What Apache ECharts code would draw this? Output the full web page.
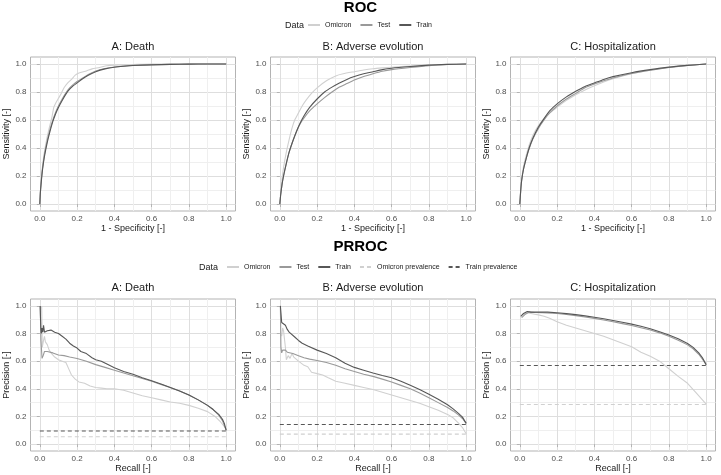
<!DOCTYPE html>
<html>
<head>
<meta charset="utf-8">
<script src="https://cdn.jsdelivr.net/npm/echarts@6/dist/echarts.min.js"></script>
<style>html,body{margin:0;padding:0;background:#fff;}#c{width:721px;height:475px;}</style>
</head>
<body>
<div id="c"></div>
<script>
// ---------- data ----------
const panelTitles = ['A: Death', 'B: Adverse evolution', 'C: Hospitalization'];
const seriesNames = ['Omicron', 'Test', 'Train'];
const prevalenceNames = ['Omicron prevalence', 'Train prevalence'];
const majorTicks = [0, 0.2, 0.4, 0.6, 0.8, 1.0];
const minorTicks = [0.1, 0.3, 0.5, 0.7, 0.9];

// ROC: [1 - specificity, sensitivity]
const rocDeathOmicron = [[0,0],[0.005,0.12],[0.012,0.24],[0.022,0.35],[0.035,0.45],[0.05,0.54],[0.065,0.62],[0.075,0.69],[0.085,0.72],[0.1,0.755],[0.115,0.79],[0.13,0.83],[0.15,0.865],[0.17,0.89],[0.19,0.92],[0.21,0.935],[0.25,0.95],[0.28,0.965],[0.32,0.975],[0.36,0.988],[0.4,0.992],[0.5,0.996],[0.6,1],[1,1]];
const rocDeathTest = [[0,0],[0.003,0.09],[0.008,0.17],[0.015,0.26],[0.025,0.355],[0.04,0.455],[0.055,0.535],[0.07,0.6],[0.085,0.655],[0.1,0.7],[0.12,0.75],[0.14,0.795],[0.16,0.83],[0.18,0.855],[0.2,0.875],[0.23,0.9],[0.26,0.925],[0.3,0.95],[0.35,0.968],[0.4,0.979],[0.5,0.99],[0.6,0.995],[0.8,0.999],[1,1]];
const rocDeathTrain = [[0,0],[0.003,0.08],[0.008,0.16],[0.015,0.25],[0.025,0.34],[0.04,0.44],[0.055,0.52],[0.07,0.59],[0.085,0.645],[0.1,0.69],[0.12,0.74],[0.14,0.785],[0.16,0.82],[0.18,0.845],[0.2,0.865],[0.23,0.895],[0.26,0.92],[0.3,0.945],[0.35,0.965],[0.4,0.977],[0.45,0.984],[0.5,0.989],[0.6,0.994],[0.7,0.997],[0.8,0.999],[0.9,1],[1,1]];

const rocAdverseOmicron = [[0,0],[0.005,0.09],[0.012,0.18],[0.02,0.26],[0.035,0.37],[0.05,0.46],[0.065,0.54],[0.08,0.6],[0.1,0.65],[0.12,0.7],[0.14,0.74],[0.17,0.79],[0.2,0.83],[0.25,0.88],[0.3,0.915],[0.34,0.93],[0.4,0.945],[0.45,0.957],[0.5,0.966],[0.55,0.972],[0.6,0.977],[0.7,0.985],[0.8,0.992],[0.9,0.997],[1,1]];
const rocAdverseTest = [[0,0],[0.005,0.07],[0.012,0.14],[0.02,0.2],[0.035,0.29],[0.05,0.37],[0.07,0.45],[0.09,0.52],[0.11,0.575],[0.13,0.615],[0.16,0.665],[0.2,0.715],[0.24,0.76],[0.28,0.8],[0.32,0.835],[0.36,0.86],[0.4,0.885],[0.45,0.91],[0.5,0.93],[0.55,0.948],[0.6,0.96],[0.7,0.975],[0.8,0.988],[0.9,0.996],[1,1]];
const rocAdverseTrain = [[0,0],[0.005,0.07],[0.012,0.14],[0.02,0.2],[0.035,0.29],[0.05,0.37],[0.07,0.45],[0.09,0.52],[0.11,0.58],[0.13,0.63],[0.16,0.69],[0.2,0.75],[0.24,0.8],[0.28,0.835],[0.32,0.865],[0.36,0.89],[0.4,0.91],[0.45,0.93],[0.5,0.945],[0.55,0.96],[0.6,0.97],[0.7,0.982],[0.8,0.992],[0.9,0.997],[1,1]];

const rocHospOmicron = [[0,0],[0.005,0.11],[0.01,0.18],[0.02,0.27],[0.035,0.35],[0.05,0.42],[0.07,0.49],[0.1,0.56],[0.13,0.61],[0.16,0.65],[0.2,0.69],[0.25,0.74],[0.3,0.78],[0.35,0.815],[0.4,0.845],[0.45,0.872],[0.5,0.895],[0.6,0.93],[0.7,0.955],[0.8,0.975],[0.9,0.99],[1,1]];
const rocHospTest = [[0,0],[0.005,0.1],[0.01,0.17],[0.02,0.25],[0.035,0.33],[0.05,0.395],[0.07,0.465],[0.1,0.54],[0.13,0.6],[0.16,0.65],[0.2,0.7],[0.25,0.75],[0.3,0.79],[0.35,0.83],[0.4,0.857],[0.45,0.88],[0.5,0.9],[0.6,0.932],[0.7,0.955],[0.8,0.975],[0.9,0.99],[1,1]];
const rocHospTrain = [[0,0],[0.005,0.1],[0.01,0.17],[0.02,0.25],[0.035,0.33],[0.05,0.4],[0.07,0.47],[0.1,0.55],[0.13,0.61],[0.16,0.665],[0.2,0.715],[0.25,0.765],[0.3,0.805],[0.35,0.84],[0.4,0.865],[0.45,0.89],[0.5,0.91],[0.6,0.938],[0.7,0.96],[0.8,0.978],[0.9,0.99],[1,1]];

// PR: [recall, precision]
const prDeathOmicron = [[0.01,1.0],[0.013,0.7],[0.02,0.75],[0.025,0.78],[0.03,0.74],[0.04,0.72],[0.05,0.68],[0.06,0.66],[0.07,0.65],[0.08,0.63],[0.1,0.61],[0.12,0.6],[0.14,0.59],[0.16,0.53],[0.17,0.5],[0.19,0.47],[0.21,0.45],[0.24,0.44],[0.27,0.42],[0.3,0.41],[0.33,0.405],[0.36,0.4],[0.4,0.4],[0.45,0.39],[0.5,0.37],[0.55,0.35],[0.6,0.335],[0.65,0.32],[0.7,0.305],[0.75,0.295],[0.8,0.28],[0.85,0.26],[0.9,0.235],[0.94,0.2],[0.97,0.16],[1,0.11]];
const prDeathTest = [[0.002,1.0],[0.006,0.75],[0.012,0.62],[0.018,0.64],[0.025,0.67],[0.03,0.68],[0.04,0.67],[0.05,0.665],[0.07,0.66],[0.1,0.645],[0.13,0.64],[0.16,0.63],[0.2,0.62],[0.25,0.6],[0.3,0.575],[0.35,0.555],[0.4,0.535],[0.45,0.515],[0.5,0.495],[0.55,0.475],[0.6,0.455],[0.65,0.432],[0.7,0.41],[0.75,0.385],[0.8,0.355],[0.85,0.32],[0.9,0.28],[0.93,0.25],[0.96,0.21],[0.98,0.17],[1,0.1]];
const prDeathTrain = [[0.002,1.0],[0.005,0.85],[0.008,0.8],[0.012,0.84],[0.016,0.81],[0.02,0.86],[0.025,0.81],[0.03,0.8],[0.04,0.82],[0.05,0.83],[0.06,0.825],[0.07,0.83],[0.08,0.81],[0.09,0.82],[0.1,0.8],[0.12,0.78],[0.14,0.76],[0.16,0.73],[0.18,0.71],[0.2,0.695],[0.22,0.67],[0.25,0.655],[0.28,0.625],[0.3,0.61],[0.33,0.6],[0.36,0.58],[0.4,0.553],[0.45,0.525],[0.5,0.505],[0.55,0.48],[0.6,0.458],[0.65,0.435],[0.7,0.41],[0.75,0.385],[0.8,0.355],[0.85,0.32],[0.9,0.28],[0.93,0.25],[0.96,0.215],[0.98,0.18],[0.99,0.15],[1,0.1]];

const prAdverseOmicron = [[0.01,0.78],[0.015,0.84],[0.02,0.82],[0.03,0.7],[0.035,0.61],[0.045,0.64],[0.055,0.62],[0.065,0.655],[0.075,0.63],[0.085,0.64],[0.1,0.6],[0.11,0.61],[0.13,0.57],[0.15,0.56],[0.17,0.52],[0.2,0.51],[0.23,0.5],[0.26,0.48],[0.3,0.455],[0.35,0.44],[0.4,0.425],[0.45,0.41],[0.5,0.395],[0.55,0.375],[0.6,0.355],[0.65,0.335],[0.7,0.315],[0.75,0.295],[0.8,0.27],[0.85,0.245],[0.9,0.215],[0.93,0.19],[0.96,0.15],[0.98,0.12],[1,0.075]];
const prAdverseTest = [[0.003,1.0],[0.006,0.7],[0.01,0.66],[0.015,0.68],[0.02,0.67],[0.03,0.68],[0.04,0.665],[0.05,0.67],[0.07,0.655],[0.1,0.64],[0.13,0.625],[0.16,0.615],[0.2,0.605],[0.25,0.59],[0.3,0.57],[0.35,0.545],[0.4,0.525],[0.45,0.505],[0.5,0.49],[0.55,0.47],[0.6,0.45],[0.65,0.425],[0.7,0.4],[0.75,0.37],[0.8,0.335],[0.85,0.3],[0.9,0.265],[0.93,0.24],[0.96,0.21],[0.98,0.185],[1,0.15]];
const prAdverseTrain = [[0.003,1.0],[0.006,0.95],[0.01,0.88],[0.015,0.89],[0.02,0.87],[0.03,0.86],[0.04,0.83],[0.05,0.81],[0.06,0.8],[0.08,0.775],[0.1,0.75],[0.12,0.73],[0.15,0.71],[0.2,0.68],[0.25,0.655],[0.3,0.625],[0.35,0.585],[0.4,0.555],[0.45,0.535],[0.5,0.515],[0.55,0.497],[0.6,0.48],[0.65,0.455],[0.7,0.425],[0.75,0.395],[0.8,0.36],[0.85,0.325],[0.9,0.285],[0.93,0.255],[0.96,0.22],[0.98,0.195],[1,0.15]];

const prHospOmicron = [[0.02,0.94],[0.04,0.95],[0.06,0.945],[0.08,0.94],[0.1,0.935],[0.13,0.925],[0.16,0.91],[0.2,0.885],[0.25,0.86],[0.3,0.84],[0.35,0.82],[0.4,0.8],[0.45,0.78],[0.5,0.755],[0.55,0.73],[0.6,0.705],[0.65,0.665],[0.7,0.635],[0.75,0.6],[0.8,0.545],[0.85,0.49],[0.9,0.44],[0.95,0.365],[1,0.29]];
const prHospTest = [[0.01,0.915],[0.03,0.94],[0.05,0.955],[0.08,0.952],[0.12,0.95],[0.2,0.945],[0.25,0.938],[0.3,0.93],[0.35,0.92],[0.4,0.91],[0.45,0.898],[0.5,0.885],[0.55,0.872],[0.6,0.858],[0.65,0.842],[0.7,0.825],[0.75,0.805],[0.8,0.78],[0.85,0.752],[0.9,0.718],[0.93,0.69],[0.96,0.65],[0.98,0.615],[1,0.575]];
const prHospTrain = [[0.005,0.925],[0.02,0.945],[0.04,0.96],[0.06,0.955],[0.1,0.955],[0.15,0.955],[0.2,0.95],[0.25,0.944],[0.3,0.937],[0.35,0.928],[0.4,0.918],[0.45,0.907],[0.5,0.895],[0.55,0.882],[0.6,0.868],[0.65,0.853],[0.7,0.835],[0.75,0.813],[0.8,0.79],[0.85,0.762],[0.9,0.728],[0.93,0.7],[0.96,0.66],[0.98,0.625],[1,0.575]];

const prevalenceOmicron = [0.053, 0.072, 0.287];
const prevalenceTrain = [0.095, 0.142, 0.569];

// ---------- layout & style ----------
const FONT = 'Liberation Sans, Arial, sans-serif';
const colors = { 'Omicron': '#d0d0d0', 'Test': '#999999', 'Train': '#575757',
                 'Omicron prevalence': '#d0d0d0', 'Train prevalence': '#575757' };
const panelLefts = [30.5, 270.5, 510.5];
const panelWidth = 205;
const rows = [
  { top: 57, height: 154, xName: '1 - Specificity [-]', yName: 'Sensitivity [-]', xGap: 12, titleY: 47 },
  { top: 299, height: 152, xName: 'Recall [-]', yName: 'Precision [-]', xGap: 13, titleY: 288 }
];
const rocData = [[rocDeathOmicron, rocDeathTest, rocDeathTrain],
                 [rocAdverseOmicron, rocAdverseTest, rocAdverseTrain],
                 [rocHospOmicron, rocHospTest, rocHospTrain]];
const prData = [[prDeathOmicron, prDeathTest, prDeathTrain],
                [prAdverseOmicron, prAdverseTest, prAdverseTrain],
                [prHospOmicron, prHospTest, prHospTrain]];

const grids = [], xAxes = [], yAxes = [], series = [], graphics = [];
let g = 0;
rows.forEach((row, r) => {
  for (let p = 0; p < 3; p++) {
    grids.push({ left: panelLefts[p], top: row.top, width: panelWidth, height: row.height,
      show: true, borderColor: '#b3b3b3', borderWidth: 1, backgroundColor: '#fff', containLabel: false });
    const common = { type: 'value', gridIndex: g, min: -0.05, max: 1.05, axisLine: { show: false } };
    xAxes.push(Object.assign({}, common, {
      position: 'bottom',
      axisTick: { show: true, length: 3, lineStyle: { color: '#b3b3b3', width: 1 }, customValues: majorTicks },
      axisLabel: { customValues: majorTicks, formatter: v => v.toFixed(1), fontSize: 8, color: '#4d4d4d', margin: 4, fontFamily: FONT },
      splitLine: { show: true, lineStyle: { color: '#dedede', width: 1 } },
      name: row.xName, nameLocation: 'middle', nameGap: row.xGap,
      nameTextStyle: { fontSize: 9, color: '#1a1a1a', fontFamily: FONT }
    }));
    xAxes.push(Object.assign({}, common, {
      position: 'top',
      axisTick: { show: false, customValues: minorTicks },
      axisLabel: { show: false, customValues: minorTicks },
      splitLine: { show: true, lineStyle: { color: '#efefef', width: 1 } }
    }));
    yAxes.push(Object.assign({}, common, {
      position: 'left',
      axisTick: { show: true, length: 3, lineStyle: { color: '#b3b3b3', width: 1 }, customValues: majorTicks },
      axisLabel: { customValues: majorTicks, formatter: v => v.toFixed(1), fontSize: 8, color: '#4d4d4d', margin: 4, fontFamily: FONT },
      splitLine: { show: true, lineStyle: { color: '#dedede', width: 1 } },
      name: row.yName, nameLocation: 'middle', nameGap: 16, nameRotate: 90,
      nameTextStyle: { fontSize: 9, color: '#1a1a1a', fontFamily: FONT }
    }));
    yAxes.push(Object.assign({}, common, {
      position: 'right',
      axisTick: { show: false, customValues: minorTicks },
      axisLabel: { show: false, customValues: minorTicks },
      splitLine: { show: true, lineStyle: { color: '#efefef', width: 1 } }
    }));
    const dataSet = r === 0 ? rocData[p] : prData[p];
    if (r === 1) {
      [[prevalenceNames[0], prevalenceOmicron[p]], [prevalenceNames[1], prevalenceTrain[p]]].forEach(([nm, v]) => {
        series.push({ type: 'line', name: nm, xAxisIndex: 2 * g, yAxisIndex: 2 * g,
          data: [[0, v], [1, v]], symbol: 'none', silent: true,
          lineStyle: { color: colors[nm], width: 1.1, type: [4, 3] }, itemStyle: { color: colors[nm] }, z: 3 });
      });
    }
    seriesNames.forEach((nm, k) => {
      series.push({ type: 'line', name: nm, xAxisIndex: 2 * g, yAxisIndex: 2 * g,
        data: dataSet[k], symbol: 'none', showSymbol: false, silent: true, smooth: r === 0 ? 0.2 : false,
        lineStyle: { color: colors[nm], width: 1.1 }, itemStyle: { color: colors[nm] }, z: 4 + k });
    });
    graphics.push({ type: 'text', x: panelLefts[p] + panelWidth / 2, y: row.titleY,
      style: { text: panelTitles[p], fill: '#1a1a1a', font: '11px ' + FONT, textAlign: 'center', textVerticalAlign: 'middle' } });
    g++;
  }
});

graphics.push({ type: 'text', x: 360.5, y: 8, style: { text: 'ROC', font: 'bold 15px ' + FONT, fill: '#000', textAlign: 'center', textVerticalAlign: 'middle' } });
graphics.push({ type: 'text', x: 360.5, y: 247, style: { text: 'PRROC', font: 'bold 15px ' + FONT, fill: '#000', textAlign: 'center', textVerticalAlign: 'middle' } });
graphics.push({ type: 'text', x: 285, y: 26, style: { text: 'Data', font: '9px ' + FONT, fill: '#1a1a1a', textAlign: 'left', textVerticalAlign: 'middle' } });
graphics.push({ type: 'text', x: 199, y: 268, style: { text: 'Data', font: '9px ' + FONT, fill: '#1a1a1a', textAlign: 'left', textVerticalAlign: 'middle' } });

const legendCommon = { orient: 'horizontal', itemWidth: 12, itemHeight: 10, itemGap: 8, padding: 0,
  selectedMode: false, itemStyle: { opacity: 0, borderWidth: 0 },
  textStyle: { fontSize: 7, color: '#1a1a1a', fontFamily: FONT } };

const chart = echarts.init(document.getElementById('c'), null, { renderer: 'canvas' });
chart.setOption({
  animation: false,
  backgroundColor: '#fff',
  grid: grids, xAxis: xAxes, yAxis: yAxes, series: series,
  legend: [
    Object.assign({}, legendCommon, { left: 307, top: 21, data: seriesNames }),
    Object.assign({}, legendCommon, { left: 226, top: 263, data: seriesNames.concat(prevalenceNames) })
  ],
  graphic: graphics
});
</script>
</body>
</html>
